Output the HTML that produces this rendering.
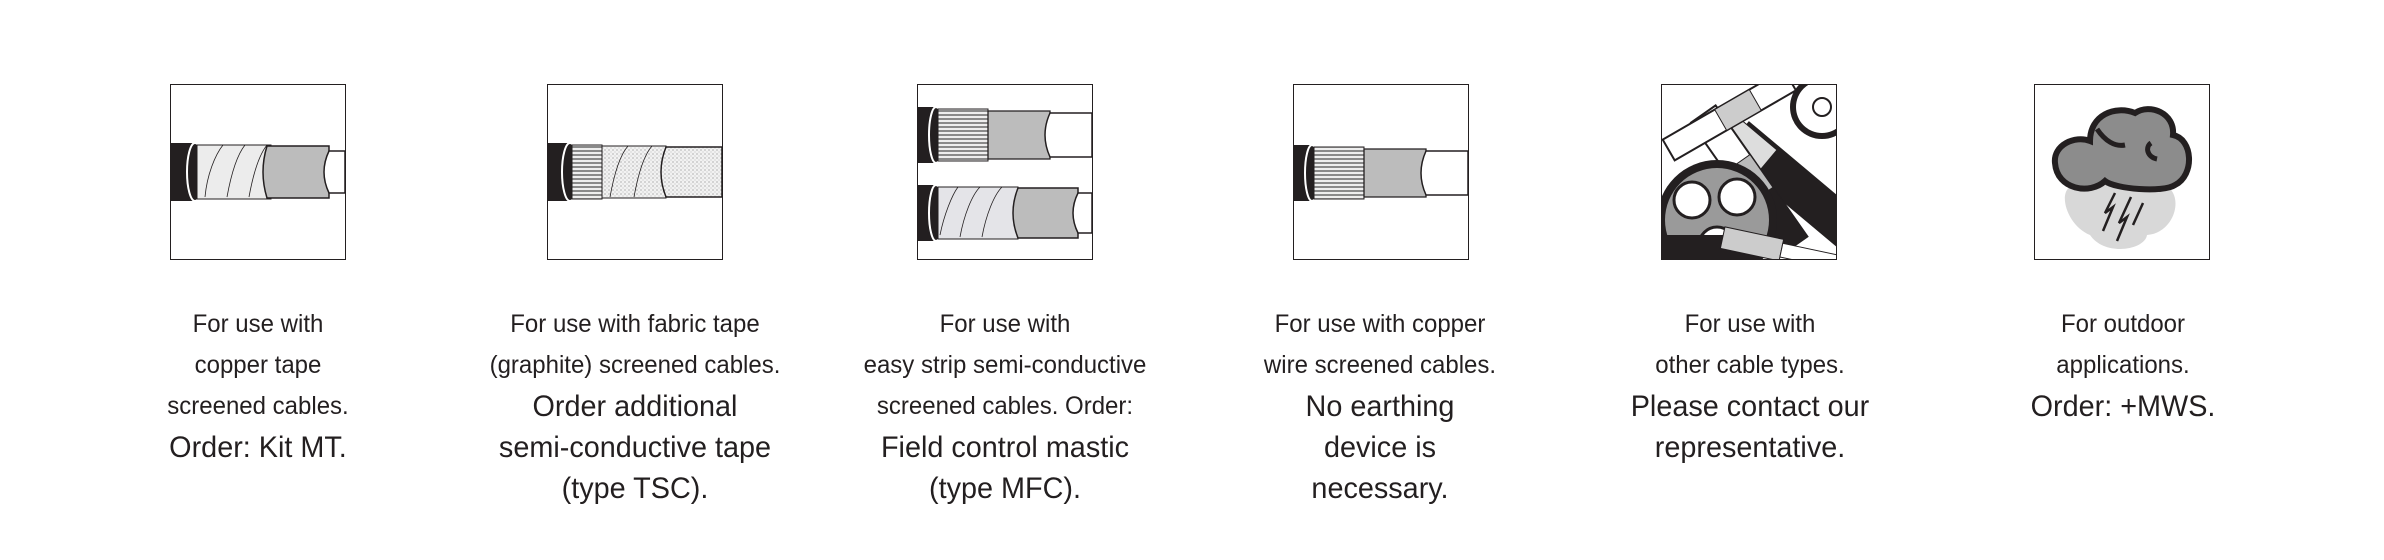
<!DOCTYPE html>
<html><head><meta charset="utf-8"><style>
body{margin:0;width:2384px;height:560px;background:#fff;position:relative;overflow:hidden;font-family:"Liberation Sans",sans-serif;color:#231f20}
.box{position:absolute;top:84px;width:174px;height:174px;border:1.5px solid #231f20;overflow:hidden;background:#fff}
.box svg{display:block}
.t{position:absolute;top:304px;width:360px;text-align:center}
.t div{white-space:nowrap}
.s{font-size:25px;height:41px;line-height:41px;transform:scaleX(0.96)}
.l{font-size:30px;height:41px;line-height:41px;transform:scaleX(0.96)}
</style></head><body>

<svg width="0" height="0" style="position:absolute">
<defs>
<pattern id="str" width="6" height="4" patternUnits="userSpaceOnUse"><rect width="6" height="4" fill="#eee"/><line x1="0" y1="2" x2="6" y2="2" stroke="#555" stroke-width="1.3"/></pattern>
<pattern id="dot" width="4" height="4" patternUnits="userSpaceOnUse"><rect width="4" height="4" fill="#f2f2f2"/><circle cx="1" cy="1" r="0.6" fill="#888"/><circle cx="3" cy="3" r="0.5" fill="#aaa"/></pattern>
</defs></svg>

<div class="box" style="left:170px">
<svg width="174" height="174">
<rect x="0" y="58" width="24" height="58" fill="#231f20"/>
<ellipse cx="24" cy="87" rx="8" ry="29" fill="#231f20" stroke="#fff" stroke-width="2"/>
<path d="M26 60 H100 V114 H26 Z" fill="#ececec" stroke="#231f20" stroke-width="1"/>
<path d="M34 112 C36 90 44 70 52 60 M56 112 C60 90 66 70 74 60 M78 112 C82 90 88 70 96 60" fill="none" stroke="#231f20" stroke-width="0.8"/>
<path d="M96 61 H158 V113 H96 Q88 87 96 61Z" fill="#bcbcbc" stroke="#231f20" stroke-width="1.5"/>
<path d="M158 66 H174 V108 H158 Q148 87 158 66Z" fill="#fff" stroke="#231f20" stroke-width="1.5"/>
</svg></div>
<div class="t" style="left:78px"><div class="s">For use with</div><div class="s">copper tape</div><div class="s">screened cables.</div><div class="l">Order: Kit MT.</div></div>

<div class="box" style="left:547px">
<svg width="174" height="174">
<rect x="0" y="58" width="22" height="58" fill="#231f20"/>
<ellipse cx="22" cy="87" rx="8" ry="29" fill="#231f20" stroke="#fff" stroke-width="2"/>
<path d="M24 60 H54 V114 H24 Z" fill="url(#str)" stroke="#231f20"/>
<path d="M54 61 H118 V113 H54 Z" fill="url(#dot)" stroke="#231f20" stroke-width="1"/>
<path d="M62 112 C66 90 72 70 80 61 M86 112 C90 90 96 70 104 61" fill="none" stroke="#231f20" stroke-width="0.8"/>
<path d="M118 62 H174 V112 H118 Q108 87 118 62Z" fill="url(#dot)" stroke="#231f20" stroke-width="1.5"/>
</svg></div>
<div class="t" style="left:455px"><div class="s">For use with fabric tape</div><div class="s">(graphite) screened cables.</div><div class="l">Order additional</div><div class="l">semi-conductive tape</div><div class="l">(type TSC).</div></div>

<div class="box" style="left:917px">
<svg width="174" height="174">
<rect x="0" y="22" width="18" height="56" fill="#231f20"/>
<ellipse cx="18" cy="50" rx="7" ry="28" fill="#231f20" stroke="#fff" stroke-width="2"/>
<path d="M20 24 H70 V76 H20Z" fill="url(#str)" stroke="#231f20"/>
<path d="M70 26 H132 V74 H70Z" fill="#bcbcbc" stroke="#231f20" stroke-width="1.3"/>
<path d="M132 28 H174 V72 H132 Q122 50 132 28Z" fill="#fff" stroke="#231f20" stroke-width="1.5"/>
<rect x="0" y="100" width="18" height="56" fill="#231f20"/>
<ellipse cx="18" cy="128" rx="7" ry="28" fill="#231f20" stroke="#fff" stroke-width="2"/>
<path d="M20 102 H100 V154 H20Z" fill="#e4e4e8" stroke="#231f20"/>
<path d="M22 150 C26 130 34 110 40 102 M42 152 C46 130 54 110 62 102 M64 152 C68 130 76 110 84 102" fill="none" stroke="#231f20" stroke-width="0.8"/>
<path d="M100 103 H160 V153 H100 Q90 128 100 103Z" fill="#bcbcbc" stroke="#231f20" stroke-width="1.5"/>
<path d="M160 108 H174 V148 H160 Q150 128 160 108Z" fill="#fff" stroke="#231f20" stroke-width="1.5"/>
</svg></div>
<div class="t" style="left:825px"><div class="s">For use with</div><div class="s">easy strip semi-conductive</div><div class="s">screened cables. Order:</div><div class="l">Field control mastic</div><div class="l">(type MFC).</div></div>

<div class="box" style="left:1293px">
<svg width="174" height="174">
<rect x="0" y="60" width="18" height="56" fill="#231f20"/>
<ellipse cx="18" cy="88" rx="7" ry="28" fill="#231f20" stroke="#fff" stroke-width="2"/>
<path d="M20 62 H70 V114 H20Z" fill="url(#str)" stroke="#231f20"/>
<path d="M70 64 H132 V112 H70Z" fill="#bcbcbc" stroke="#231f20" stroke-width="1.3"/>
<path d="M132 66 H174 V110 H132 Q122 88 132 66Z" fill="#fff" stroke="#231f20" stroke-width="1.5"/>
</svg></div>
<div class="t" style="left:1200px"><div class="s">For use with copper</div><div class="s">wire screened cables.</div><div class="l">No earthing</div><div class="l">device is</div><div class="l">necessary.</div></div>

<div class="box" style="left:1661px">
<svg width="174" height="174">
<g transform="rotate(40 120 90)"><rect x="60" y="70" width="160" height="40" fill="#231f20"/><rect x="40" y="74" width="60" height="32" fill="#ddd" stroke="#231f20"/></g>
<g transform="rotate(55 70 70)"><rect x="20" y="55" width="160" height="30" fill="#fff" stroke="#231f20" stroke-width="2"/><rect x="80" y="55" width="40" height="30" fill="#bbb" stroke="#231f20"/><rect x="120" y="55" width="60" height="30" fill="#231f20"/></g>
<g transform="rotate(-30 50 40)"><rect x="0" y="28" width="140" height="24" fill="#fff" stroke="#231f20" stroke-width="2"/><rect x="60" y="28" width="40" height="24" fill="#ccc" stroke="#231f20"/></g>
<circle cx="160" cy="22" r="32" fill="#231f20"/><circle cx="160" cy="22" r="26" fill="#fff"/><circle cx="160" cy="22" r="9" fill="#fff" stroke="#231f20" stroke-width="2"/>
<circle cx="55" cy="135" r="60" fill="#231f20"/><circle cx="55" cy="135" r="52" fill="#9a9a9a"/>
<circle cx="30" cy="115" r="18" fill="#fff" stroke="#231f20" stroke-width="3"/><circle cx="75" cy="112" r="18" fill="#fff" stroke="#231f20" stroke-width="3"/><circle cx="55" cy="160" r="18" fill="#fff" stroke="#231f20" stroke-width="3"/>
<rect x="0" y="150" width="100" height="30" fill="#231f20"/>
<g transform="rotate(12 100 160)"><rect x="60" y="150" width="60" height="22" fill="#ccc" stroke="#231f20"/><rect x="120" y="154" width="60" height="14" fill="#fff" stroke="#231f20"/></g>
</svg></div>
<div class="t" style="left:1570px"><div class="s">For use with</div><div class="s">other cable types.</div><div class="l">Please contact our</div><div class="l">representative.</div></div>

<div class="box" style="left:2034px">
<svg width="174" height="174">
<path d="M42 100 C20 100 30 140 55 150 C70 172 110 165 112 150 C140 148 150 110 130 100 Z" fill="#d8d8d8"/>
<path d="M20 78 C18 60 40 50 55 56 C55 30 80 20 100 28 C115 18 140 28 138 50 C158 54 160 90 140 100 C128 108 80 104 70 96 C55 110 22 105 20 78 Z" fill="#8c8c8c" stroke="#231f20" stroke-width="6"/>
<path d="M62 44 C70 56 80 62 90 60 M116 58 C110 62 112 72 122 74" fill="none" stroke="#231f20" stroke-width="5"/>
<path d="M80 108 L70 128 L78 122 L68 146 M96 112 L84 138 L92 132 L82 156 M108 118 L98 140" fill="none" stroke="#231f20" stroke-width="2.5"/>
</svg></div>
<div class="t" style="left:1943px"><div class="s">For outdoor</div><div class="s">applications.</div><div class="l">Order: +MWS.</div></div>

</body></html>
